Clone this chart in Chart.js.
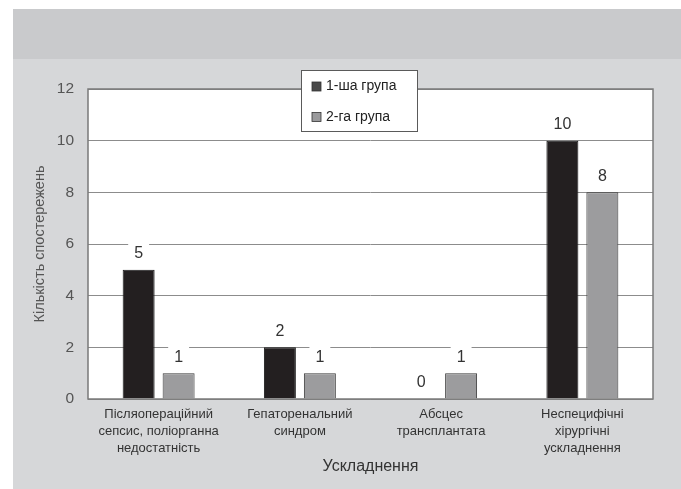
<!DOCTYPE html>
<html lang="uk">
<head>
<meta charset="utf-8">
<title>Ускладнення</title>
<script src="https://cdn.jsdelivr.net/npm/chart.js@4/dist/chart.umd.min.js"></script>
<style>
  html, body { margin: 0; padding: 0; background: #d6d7d9; overflow: hidden; }
  #wrap { width: 681px; height: 489px; }
  canvas { display: block; }
</style>
</head>
<body>
<div id="wrap"><canvas id="c" width="681" height="489"></canvas></div>
<script>
// Categories of complications (multi-line tick labels)
const categories = [
  ['Післяопераційний', 'сепсис, поліорганна', 'недостатність'],
  ['Гепаторенальний', 'синдром'],
  ['Абсцес', 'трансплантата'],
  ['Неспецифічні', 'хірургічні', 'ускладнення']
];
const seriesNames = ['1-ша група', '2-га група'];
const group1 = [5, 2, 0, 10];
const group2 = [1, 1, 1, 8];
const yTicks = [0, 2, 4, 6, 8, 10, 12];

const FONT = '"Liberation Sans", Arial, Helvetica, sans-serif';

// Page background: white margins, darker top band, lighter panel
const backdrop = {
  id: 'backdrop',
  beforeDraw(chart) {
    const { ctx, width, height, chartArea: a } = chart;
    ctx.save();
    ctx.fillStyle = '#ffffff';
    ctx.fillRect(0, 0, width, height);
    ctx.fillStyle = '#c9cacc';
    ctx.fillRect(13, 9, width - 13, 50);
    ctx.fillStyle = '#d6d7d9';
    ctx.fillRect(13, 59, width - 13, height - 59);
    ctx.fillStyle = '#ffffff';
    ctx.fillRect(a.left, a.top, a.right - a.left, a.bottom - a.top);
    ctx.restore();
  }
};

// Value labels above bars (white box breaks the gridlines), plot frame, legend box
const decorations = {
  id: 'decorations',
  afterDatasetsDraw(chart) {
    const { ctx, chartArea: a } = chart;
    ctx.save();
    ctx.font = '16px ' + FONT;
    ctx.textAlign = 'center';
    ctx.textBaseline = 'middle';
    chart.data.datasets.forEach((ds, di) => {
      const meta = chart.getDatasetMeta(di);
      meta.data.forEach((bar, i) => {
        const txt = String(ds.data[i]);
        const cx = bar.x;
        const cy = bar.y - 17;
        const w = ctx.measureText(txt).width + 12;
        ctx.fillStyle = '#ffffff';
        ctx.fillRect(cx - w / 2, cy - 11, w, 22);
        ctx.fillStyle = '#333333';
        ctx.fillText(txt, cx, cy + 1);
      });
    });
    // plot frame
    ctx.strokeStyle = '#7a7a7a';
    ctx.lineWidth = 1.5;
    ctx.strokeRect(a.left, a.top, a.right - a.left, a.bottom - a.top);
    ctx.restore();
  },
  afterDraw(chart) {
    const { ctx } = chart;
    const box = { x: 301, y: 70, w: 116, h: 61 };
    const swatch = ['#4a4a4a', '#9a9a9c'];
    ctx.save();
    ctx.fillStyle = '#ffffff';
    ctx.fillRect(box.x, box.y, box.w, box.h);
    ctx.strokeStyle = '#5a5a5a';
    ctx.lineWidth = 1;
    ctx.strokeRect(box.x + 0.5, box.y + 0.5, box.w, box.h);
    ctx.font = '14px ' + FONT;
    ctx.textAlign = 'left';
    ctx.textBaseline = 'middle';
    chart.data.datasets.forEach((ds, i) => {
      const cy = box.y + 16.5 + i * 30.5;
      ctx.fillStyle = swatch[i];
      ctx.fillRect(box.x + 11, cy - 4.5, 9, 9);
      ctx.strokeStyle = '#333333';
      ctx.lineWidth = 0.8;
      ctx.strokeRect(box.x + 11, cy - 4.5, 9, 9);
      ctx.fillStyle = '#222222';
      ctx.fillText(ds.label, box.x + 25, cy);
    });
    ctx.restore();
  }
};

new Chart(document.getElementById('c'), {
  type: 'bar',
  data: {
    labels: categories,
    datasets: [
      {
        label: seriesNames[0],
        data: group1,
        backgroundColor: '#231f20',
        borderColor: '#1a1a1a',
        borderWidth: 1
      },
      {
        label: seriesNames[1],
        data: group2,
        backgroundColor: '#9c9c9e',
        borderColor: '#3a3a3a',
        borderWidth: 1
      }
    ]
  },
  options: {
    responsive: false,
    animation: false,
    devicePixelRatio: 1,
    layout: { padding: { left: 13, top: 89, right: 28, bottom: 0 } },
    categoryPercentage: 0.566,
    barPercentage: 0.8,
    plugins: {
      legend: { display: false },
      tooltip: { enabled: false }
    },
    scales: {
      x: {
        grid: { display: false, drawTicks: false },
        border: { display: false },
        ticks: {
          color: '#333333',
          font: { family: FONT, size: 13, lineHeight: 1.3 },
          padding: 7,
          maxRotation: 0,
          autoSkip: false
        },
        title: {
          display: true,
          text: 'Ускладнення',
          color: '#333333',
          font: { family: FONT, size: 16 },
          padding: { top: 0, bottom: 13 }
        },
        afterFit(scale) { scale.height = 90; }
      },
      y: {
        min: 0,
        max: 12,
        afterBuildTicks(scale) { scale.ticks = yTicks.map(v => ({ value: v })); },
        grid: { color: '#8c8c8c', lineWidth: 1, drawTicks: false },
        border: { display: false },
        ticks: {
          color: '#555555',
          font: { family: FONT, size: 15.5 },
          padding: 14
        },
        title: {
          display: true,
          text: 'Кількість спостережень',
          color: '#555555',
          font: { family: FONT, size: 14.5 },
          padding: { top: 18, bottom: 0 }
        },
        afterFit(scale) { scale.width = 75; }
      }
    }
  },
  plugins: [backdrop, decorations]
});
</script>
</body>
</html>
